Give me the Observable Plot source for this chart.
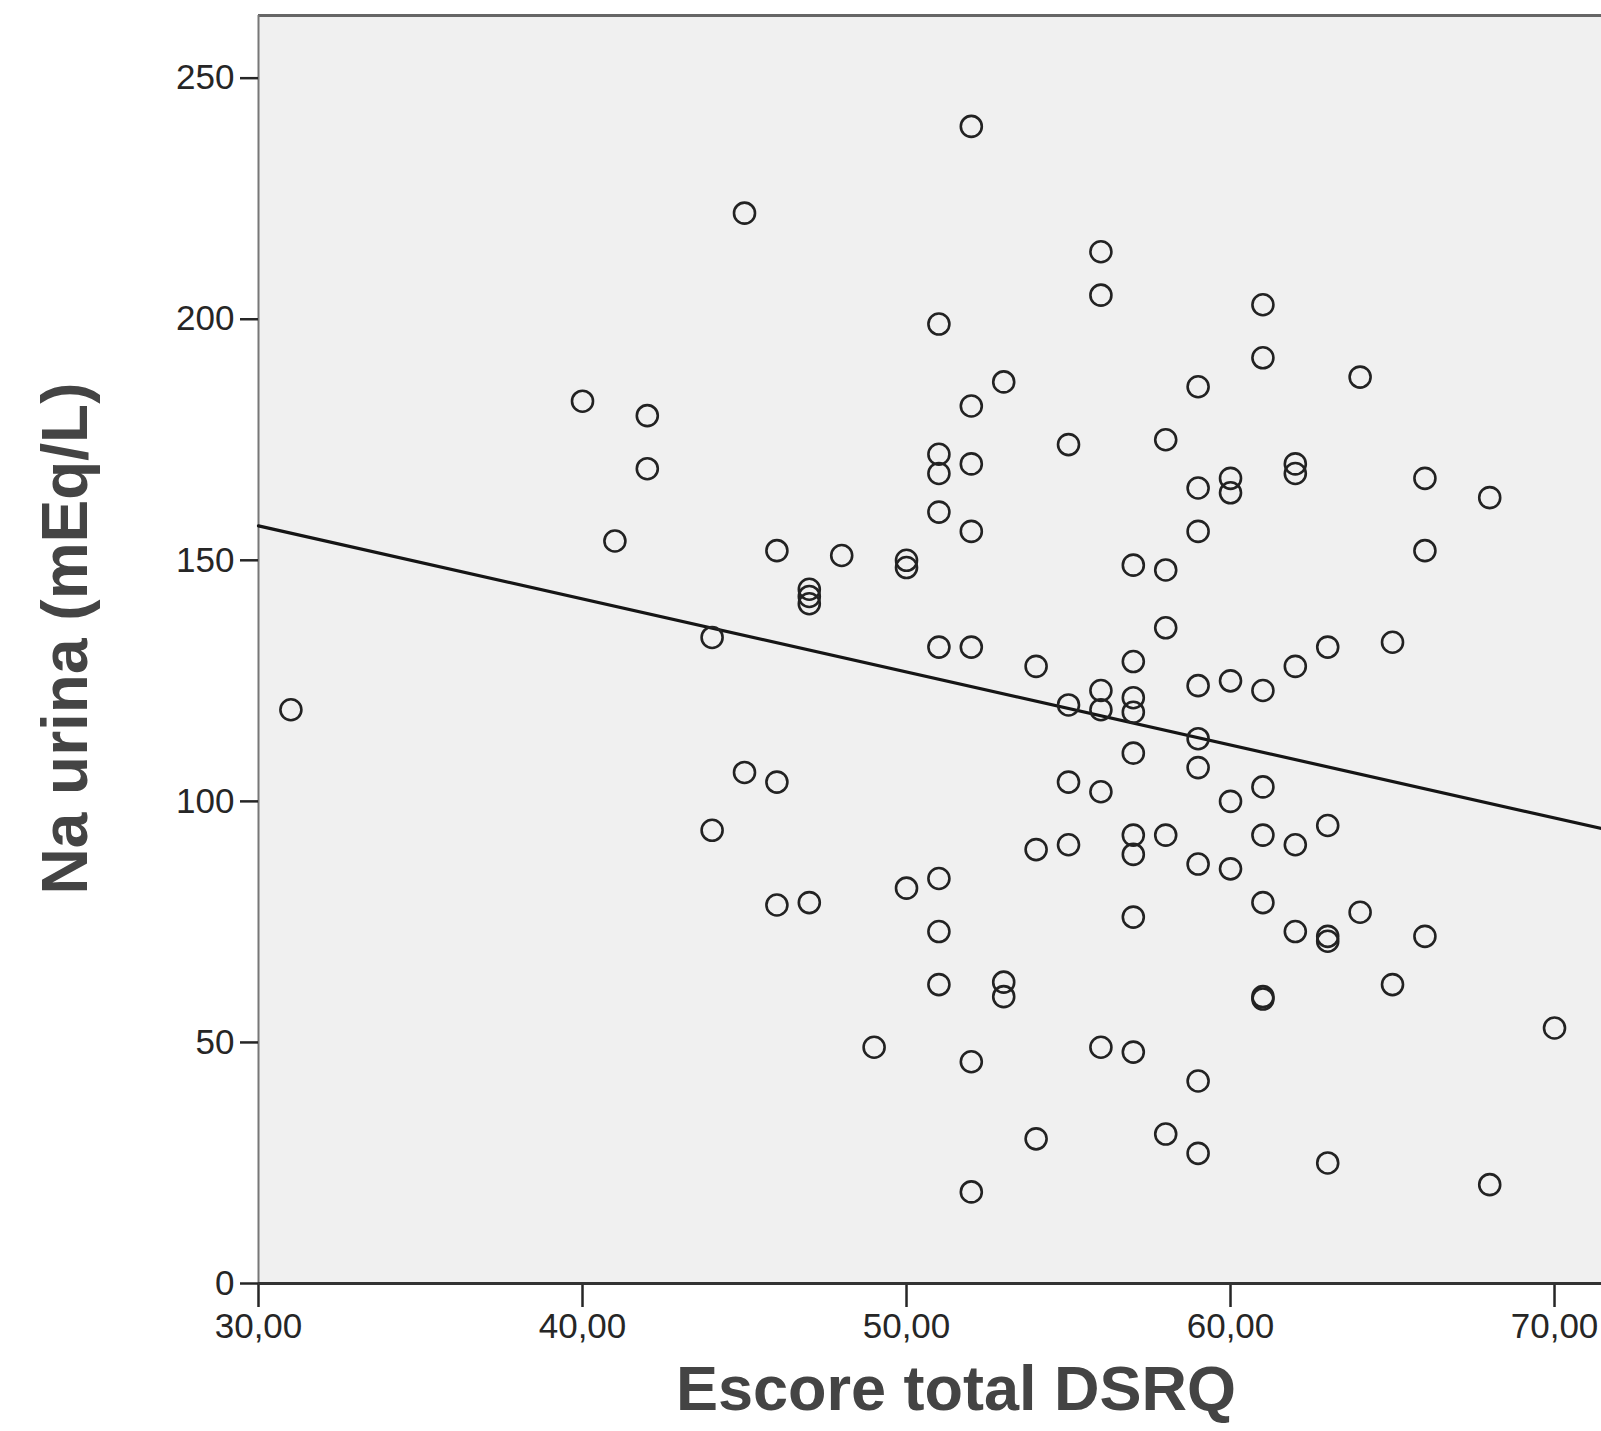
<!DOCTYPE html>
<html>
<head>
<meta charset="utf-8">
<script src="https://cdn.jsdelivr.net/npm/d3@7"></script>
<script src="https://cdn.jsdelivr.net/npm/@observablehq/plot@0.6"></script>
<style>
  html, body { margin: 0; padding: 0; background: #fff; }
  #chart svg { display: block; }
</style>
</head>
<body>
<div id="chart"></div>
<script>
// Escore total DSRQ (x) and Na urina (mEq/L) (y)
const dsrq = [
  31, 40, 42, 42, 41, 45, 44, 44, 45, 46, 46, 46,
  47, 47, 47, 47, 48, 50, 50, 49, 50,
  52, 51, 52, 51, 51, 52, 51, 52, 51, 52, 51, 51, 51,
  53, 53, 53, 52, 52,
  54, 54, 54, 55, 55, 55, 55,
  56, 56, 56, 56, 56, 56,
  57, 57, 57, 57, 57, 57, 57, 57, 57,
  58, 58, 58, 58, 58,
  59, 59, 59, 59, 59, 59, 59, 59, 59,
  60, 60, 60, 60, 60,
  61, 61, 61, 61, 61, 61, 61, 61,
  62, 62, 62, 62, 62,
  63, 63, 63, 63, 63,
  64, 64, 65, 65, 66, 66, 66, 68, 68, 70
];
const naUrina = [
  119, 183, 180, 169, 154, 222, 134, 94, 106, 104, 152, 78.5,
  79, 144, 142.5, 141, 151, 150, 148.5, 49, 82,
  240, 199, 182, 172, 168, 170, 160, 156, 132, 132, 84, 73, 62,
  187, 62.5, 59.5, 46, 19,
  128, 90, 30, 174, 120, 104, 91,
  214, 205, 123, 119, 102, 49,
  149, 129, 121.5, 118.5, 110, 93, 89, 76, 48,
  175, 148, 136, 93, 31,
  186, 165, 156, 124, 113, 107, 87, 42, 27,
  167, 164, 125, 100, 86,
  203, 192, 123, 103, 93, 79, 59.5, 59,
  170, 168, 128, 91, 73,
  132, 95, 72, 71, 25,
  188, 77, 133, 62, 167, 152, 72, 163, 20.5, 53
];
// Linear fit line
const fitIntercept = 202.6;
const fitSlope = -1.515;

const xDomain = [30, 71.45];
const yDomain = [0, 263];
const xTicks = [30, 40, 50, 60, 70];
const yTicks = [0, 50, 100, 150, 200, 250];
const xTitle = "Escore total DSRQ";
const yTitle = "Na urina (mEq/L)";

const points = dsrq.map((x, i) => ({x, y: naUrina[i]}));
const fitLine = xDomain.map(x => ({x, y: fitIntercept + fitSlope * x}));

const chart = Plot.plot({
  width: 1601,
  height: 1431,
  marginLeft: 258,
  marginRight: 0,
  marginTop: 15,
  marginBottom: 148,
  style: {fontFamily: "'Liberation Sans', Arial, sans-serif", color: "#262626", background: "#fff"},
  x: {domain: xDomain},
  y: {domain: yDomain},
  marks: [
    Plot.frame({fill: "#f0f0f0", stroke: null}),
    Plot.ruleY([yDomain[1]], {stroke: "#666", strokeWidth: 3}),
    Plot.ruleX([xDomain[0]], {stroke: "#777", strokeWidth: 2}),
    Plot.axisY({ticks: yTicks, tickSize: 18, tickPadding: 6, fontSize: 35, strokeWidth: 2.5, label: null}),
    Plot.axisX({ticks: xTicks, tickSize: 24, tickPadding: 6, fontSize: 35, strokeWidth: 2.5, label: null,
      tickFormat: d => d.toFixed(2).replace(".", ",")}),
    Plot.ruleY([0], {stroke: "#333", strokeWidth: 3}),
    Plot.line(fitLine, {x: "x", y: "y", stroke: "#151515", strokeWidth: 3.2}),
    Plot.dot(points, {x: "x", y: "y", r: 10.5, stroke: "#222", strokeWidth: 2.6, fill: "none"}),
    Plot.text([yTitle], {frameAnchor: "left", textAnchor: "middle", dx: -192, dy: -11, rotate: -90, fontSize: 64,
      fontWeight: "bold", fill: "#444"}),
    Plot.text([xTitle], {frameAnchor: "bottom", dx: 26, dy: 126, fontSize: 63, fontWeight: "bold", fill: "#444"})
  ]
});
document.getElementById("chart").appendChild(chart);
</script>
</body>
</html>
